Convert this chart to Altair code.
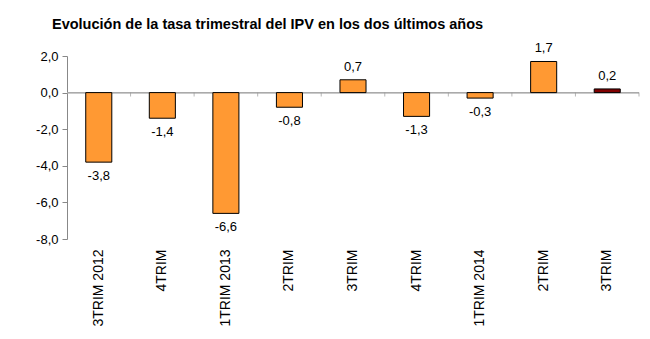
import altair as alt
import pandas as pd

idx = list(range(9))
labels = ["3TRIM 2012", "4TRIM", "1TRIM 2013", "2TRIM", "3TRIM", "4TRIM", "1TRIM 2014", "2TRIM", "3TRIM"]
values = [-3.8, -1.4, -6.6, -0.8, 0.7, -1.3, -0.3, 1.7, 0.2]
colors = ["#FF9933"] * 8 + ["#800000"]
yticks = [-8, -6, -4, -2, 0, 2]

df = pd.DataFrame({"i": idx, "v": values, "c": colors})

FONT = "Liberation Sans"
label_js = "[" + ",".join("'" + l + "'" for l in labels) + "]"
fmt = "replace(replace(format({}, '.1f'), '.', ','), '\u2212', '-')"

W, H = 572, 183
xscale = alt.Scale(paddingInner=0.59, paddingOuter=0.295)
yscale = alt.Scale(domain=[-8, 2], nice=False, zero=False)
yaxis = alt.Axis(values=yticks, grid=False, labelOverlap=False,
                 labelExpr=fmt.format("datum.value"),
                 domainColor="#888888", tickColor="#888888", tickSize=5,
                 labelFont=FONT, labelFontSize=13, labelColor="black",
                 labelPadding=4)
Y = alt.Y("v:Q", scale=yscale, title=None, axis=yaxis)
Y0 = alt.YDatum(0, scale=yscale, title=None, axis=yaxis)
X = alt.X("i:O", scale=xscale, title=None,
          axis=alt.Axis(labelExpr=label_js + "[datum.value]", labelAngle=-90,
                        domain=False, ticks=False, labelPadding=10,
                        labelFont=FONT, labelFontSize=14, labelColor="black"))

base = alt.Chart(df).transform_calculate(lab=fmt.format("datum.v"))

zero_line = base.mark_rule(color="#AAAAAA", strokeWidth=1).encode(y=Y0)

zero_ticks = base.mark_tick(orient="vertical", size=4, thickness=1, color="#999999",
                            xOffset=W / (len(idx)) / 2, yOffset=2).encode(x=X, y=Y0)

bars = base.mark_bar(stroke="black", strokeWidth=1).encode(
    x=X, y=Y, color=alt.Color("c:N", scale=None),
)

tpos = base.transform_filter("datum.v >= 0").mark_text(
    baseline="bottom", dy=-6, font=FONT, fontSize=13, color="black"
).encode(x=X, y=Y, text="lab:N")

tneg = base.transform_filter("datum.v < 0").mark_text(
    baseline="top", dy=8, font=FONT, fontSize=13, color="black"
).encode(x=X, y=Y, text="lab:N")

chart = alt.layer(zero_line, zero_ticks, bars, tpos, tneg).properties(
    width=W, height=H,
    autosize=alt.AutoSizeParams(type="none"),
    padding={"left": 67, "top": 56, "right": 11, "bottom": 100},
    title=alt.TitleParams("Evolución de la tasa trimestral del IPV en los dos últimos años",
                          anchor="start", frame="group", dx=-15, offset=10,
                          font=FONT, fontSize=14.5, fontWeight="bold", color="black"),
).configure_view(stroke=None)

chart.save("out.html", embed_options={"renderer": "svg", "actions": False})
